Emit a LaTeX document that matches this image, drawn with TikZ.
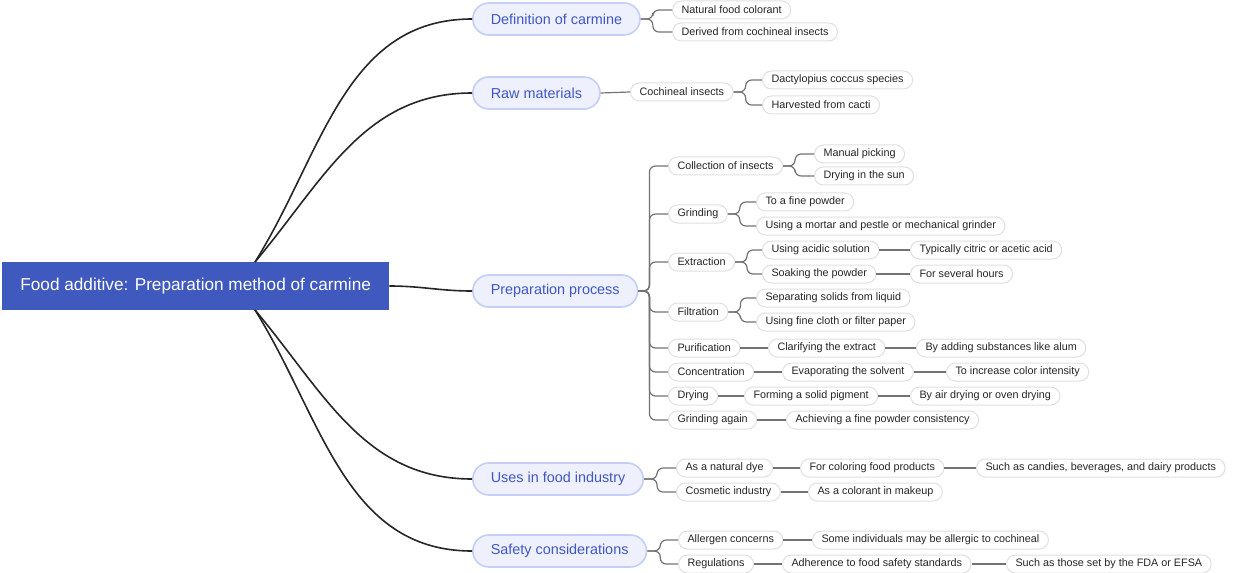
\documentclass[tikz,border=0pt]{standalone}
\usepackage{fontspec}
\setmainfont{Liberation Sans}
\definecolor{rootblue}{HTML}{4059BE}
\definecolor{topicfill}{HTML}{EEF1FD}
\definecolor{topicline}{HTML}{C5CEF7}
\definecolor{topictext}{HTML}{3F57C4}
\begin{document}
\begin{tikzpicture}[x=0.5pt,y=-0.5pt,
  root/.style={rectangle,fill=rootblue,text=white,font=\fontsize{8.6}{10}\selectfont,minimum height=24pt,inner xsep=9pt,anchor=west},
  topic/.style={rectangle,rounded corners=8pt,draw=topicline,fill=topicfill,text=topictext,line width=0.8pt,font=\fontsize{7.2}{9}\selectfont,minimum height=16pt,inner xsep=9pt,anchor=west},
  leaf/.style={rectangle,rounded corners=4.5pt,draw=black!12,fill=white,text=black!85,line width=0.5pt,font=\fontsize{5.4}{7}\selectfont,minimum height=9pt,inner xsep=4.5pt,inner ysep=1pt,anchor=west},
  link/.style={draw=black!85,line width=0.8pt},
  sub/.style={draw=black!55,line width=0.6pt,rounded corners=3pt}]
  \useasboundingbox (0,0) rectangle (1240,572);

  % root and main topics
  \node[root] (root) at (2,286) {Food additive: Preparation method of carmine};
  \coordinate (rt) at (255,262);
  \coordinate (rb) at (255,310);
  \node[topic] (def) at (472,19) {Definition of carmine};
  \node[topic] (raw) at (472,93) {Raw materials};
  \node[topic] (prep) at (472,291) {Preparation process};
  \node[topic] (uses) at (472,479) {Uses in food industry};
  \node[topic] (safe) at (472,551) {Safety considerations};

  \draw[link] (rt) to[out=58,in=180] (def.west);
  \draw[link] (rt) to[out=50,in=180] (raw.west);
  \draw[link] (root.east) to[out=0,in=180] (prep.west);
  \draw[link] (rb) to[out=-50,in=180] (uses.west);
  \draw[link] (rb) to[out=-58,in=180] (safe.west);

  % definition
  \node[leaf] (d1) at (672,10) {Natural food colorant};
  \node[leaf] (d2) at (672,32) {Derived from cochineal insects};
  \foreach \c in {d1,d2} \draw[sub] (def.east) -- ++(12,0) |- (\c.west);

  % raw materials
  \node[leaf] (r1) at (630,92) {Cochineal insects};
  \node[leaf] (r11) at (762,80) {Dactylopius coccus species};
  \node[leaf] (r12) at (762,105) {Harvested from cacti};
  \draw[sub] (raw.east) -- (r1.west);
  \foreach \c in {r11,r12} \draw[sub] (r1.east) -- ++(12,0) |- (\c.west);

  % preparation process
  \node[leaf] (p1) at (668,166) {Collection of insects};
  \node[leaf] (p11) at (814,154) {Manual picking};
  \node[leaf] (p12) at (814,176) {Drying in the sun};
  \node[leaf] (p2) at (668,214) {Grinding};
  \node[leaf] (p21) at (756,202) {To a fine powder};
  \node[leaf] (p22) at (756,226) {Using a mortar and pestle or mechanical grinder};
  \node[leaf] (p3) at (668,262) {Extraction};
  \node[leaf] (p31) at (762,250) {Using acidic solution};
  \node[leaf] (p311) at (910,250) {Typically citric or acetic acid};
  \node[leaf] (p32) at (762,274) {Soaking the powder};
  \node[leaf] (p321) at (910,274) {For several hours};
  \node[leaf] (p4) at (668,312) {Filtration};
  \node[leaf] (p41) at (756,298) {Separating solids from liquid};
  \node[leaf] (p42) at (756,322) {Using fine cloth or filter paper};
  \node[leaf] (p5) at (668,348) {Purification};
  \node[leaf] (p51) at (768,348) {Clarifying the extract};
  \node[leaf] (p511) at (916,348) {By adding substances like alum};
  \node[leaf] (p6) at (668,372) {Concentration};
  \node[leaf] (p61) at (782,372) {Evaporating the solvent};
  \node[leaf] (p611) at (946,372) {To increase color intensity};
  \node[leaf] (p7) at (668,396) {Drying};
  \node[leaf] (p71) at (744,396) {Forming a solid pigment};
  \node[leaf] (p711) at (910,396) {By air drying or oven drying};
  \node[leaf] (p8) at (668,420) {Grinding again};
  \node[leaf] (p81) at (786,420) {Achieving a fine powder consistency};

  \foreach \c in {p1,p2,p3,p4,p5,p6,p7,p8} \draw[sub] (prep.east) -- ++(11,0) |- (\c.west);
  \foreach \c in {p11,p12} \draw[sub] (p1.east) -- ++(12,0) |- (\c.west);
  \foreach \c in {p21,p22} \draw[sub] (p2.east) -- ++(12,0) |- (\c.west);
  \foreach \c in {p31,p32} \draw[sub] (p3.east) -- ++(12,0) |- (\c.west);
  \foreach \c in {p41,p42} \draw[sub] (p4.east) -- ++(12,0) |- (\c.west);
  \draw[sub] (p31) -- (p311);
  \draw[sub] (p32) -- (p321);
  \draw[sub] (p5) -- (p51) -- (p511);
  \draw[sub] (p6) -- (p61) -- (p611);
  \draw[sub] (p7) -- (p71) -- (p711);
  \draw[sub] (p8) -- (p81);

  % uses
  \node[leaf] (u1) at (676,468) {As a natural dye};
  \node[leaf] (u11) at (800,468) {For coloring food products};
  \node[leaf] (u111) at (976,468) {Such as candies, beverages, and dairy products};
  \node[leaf] (u2) at (676,492) {Cosmetic industry};
  \node[leaf] (u21) at (808,492) {As a colorant in makeup};
  \foreach \c in {u1,u2} \draw[sub] (uses.east) -- ++(13,0) |- (\c.west);
  \draw[sub] (u1) -- (u11) -- (u111);
  \draw[sub] (u2) -- (u21);

  % safety
  \node[leaf] (s1) at (678,540) {Allergen concerns};
  \node[leaf] (s11) at (812,540) {Some individuals may be allergic to cochineal};
  \node[leaf] (s2) at (678,564) {Regulations};
  \node[leaf] (s21) at (782,564) {Adherence to food safety standards};
  \node[leaf] (s211) at (1006,564) {Such as those set by the FDA or EFSA};
  \foreach \c in {s1,s2} \draw[sub] (safe.east) -- ++(13,0) |- (\c.west);
  \draw[sub] (s1) -- (s11);
  \draw[sub] (s2) -- (s21) -- (s211);
\end{tikzpicture}
\end{document}
